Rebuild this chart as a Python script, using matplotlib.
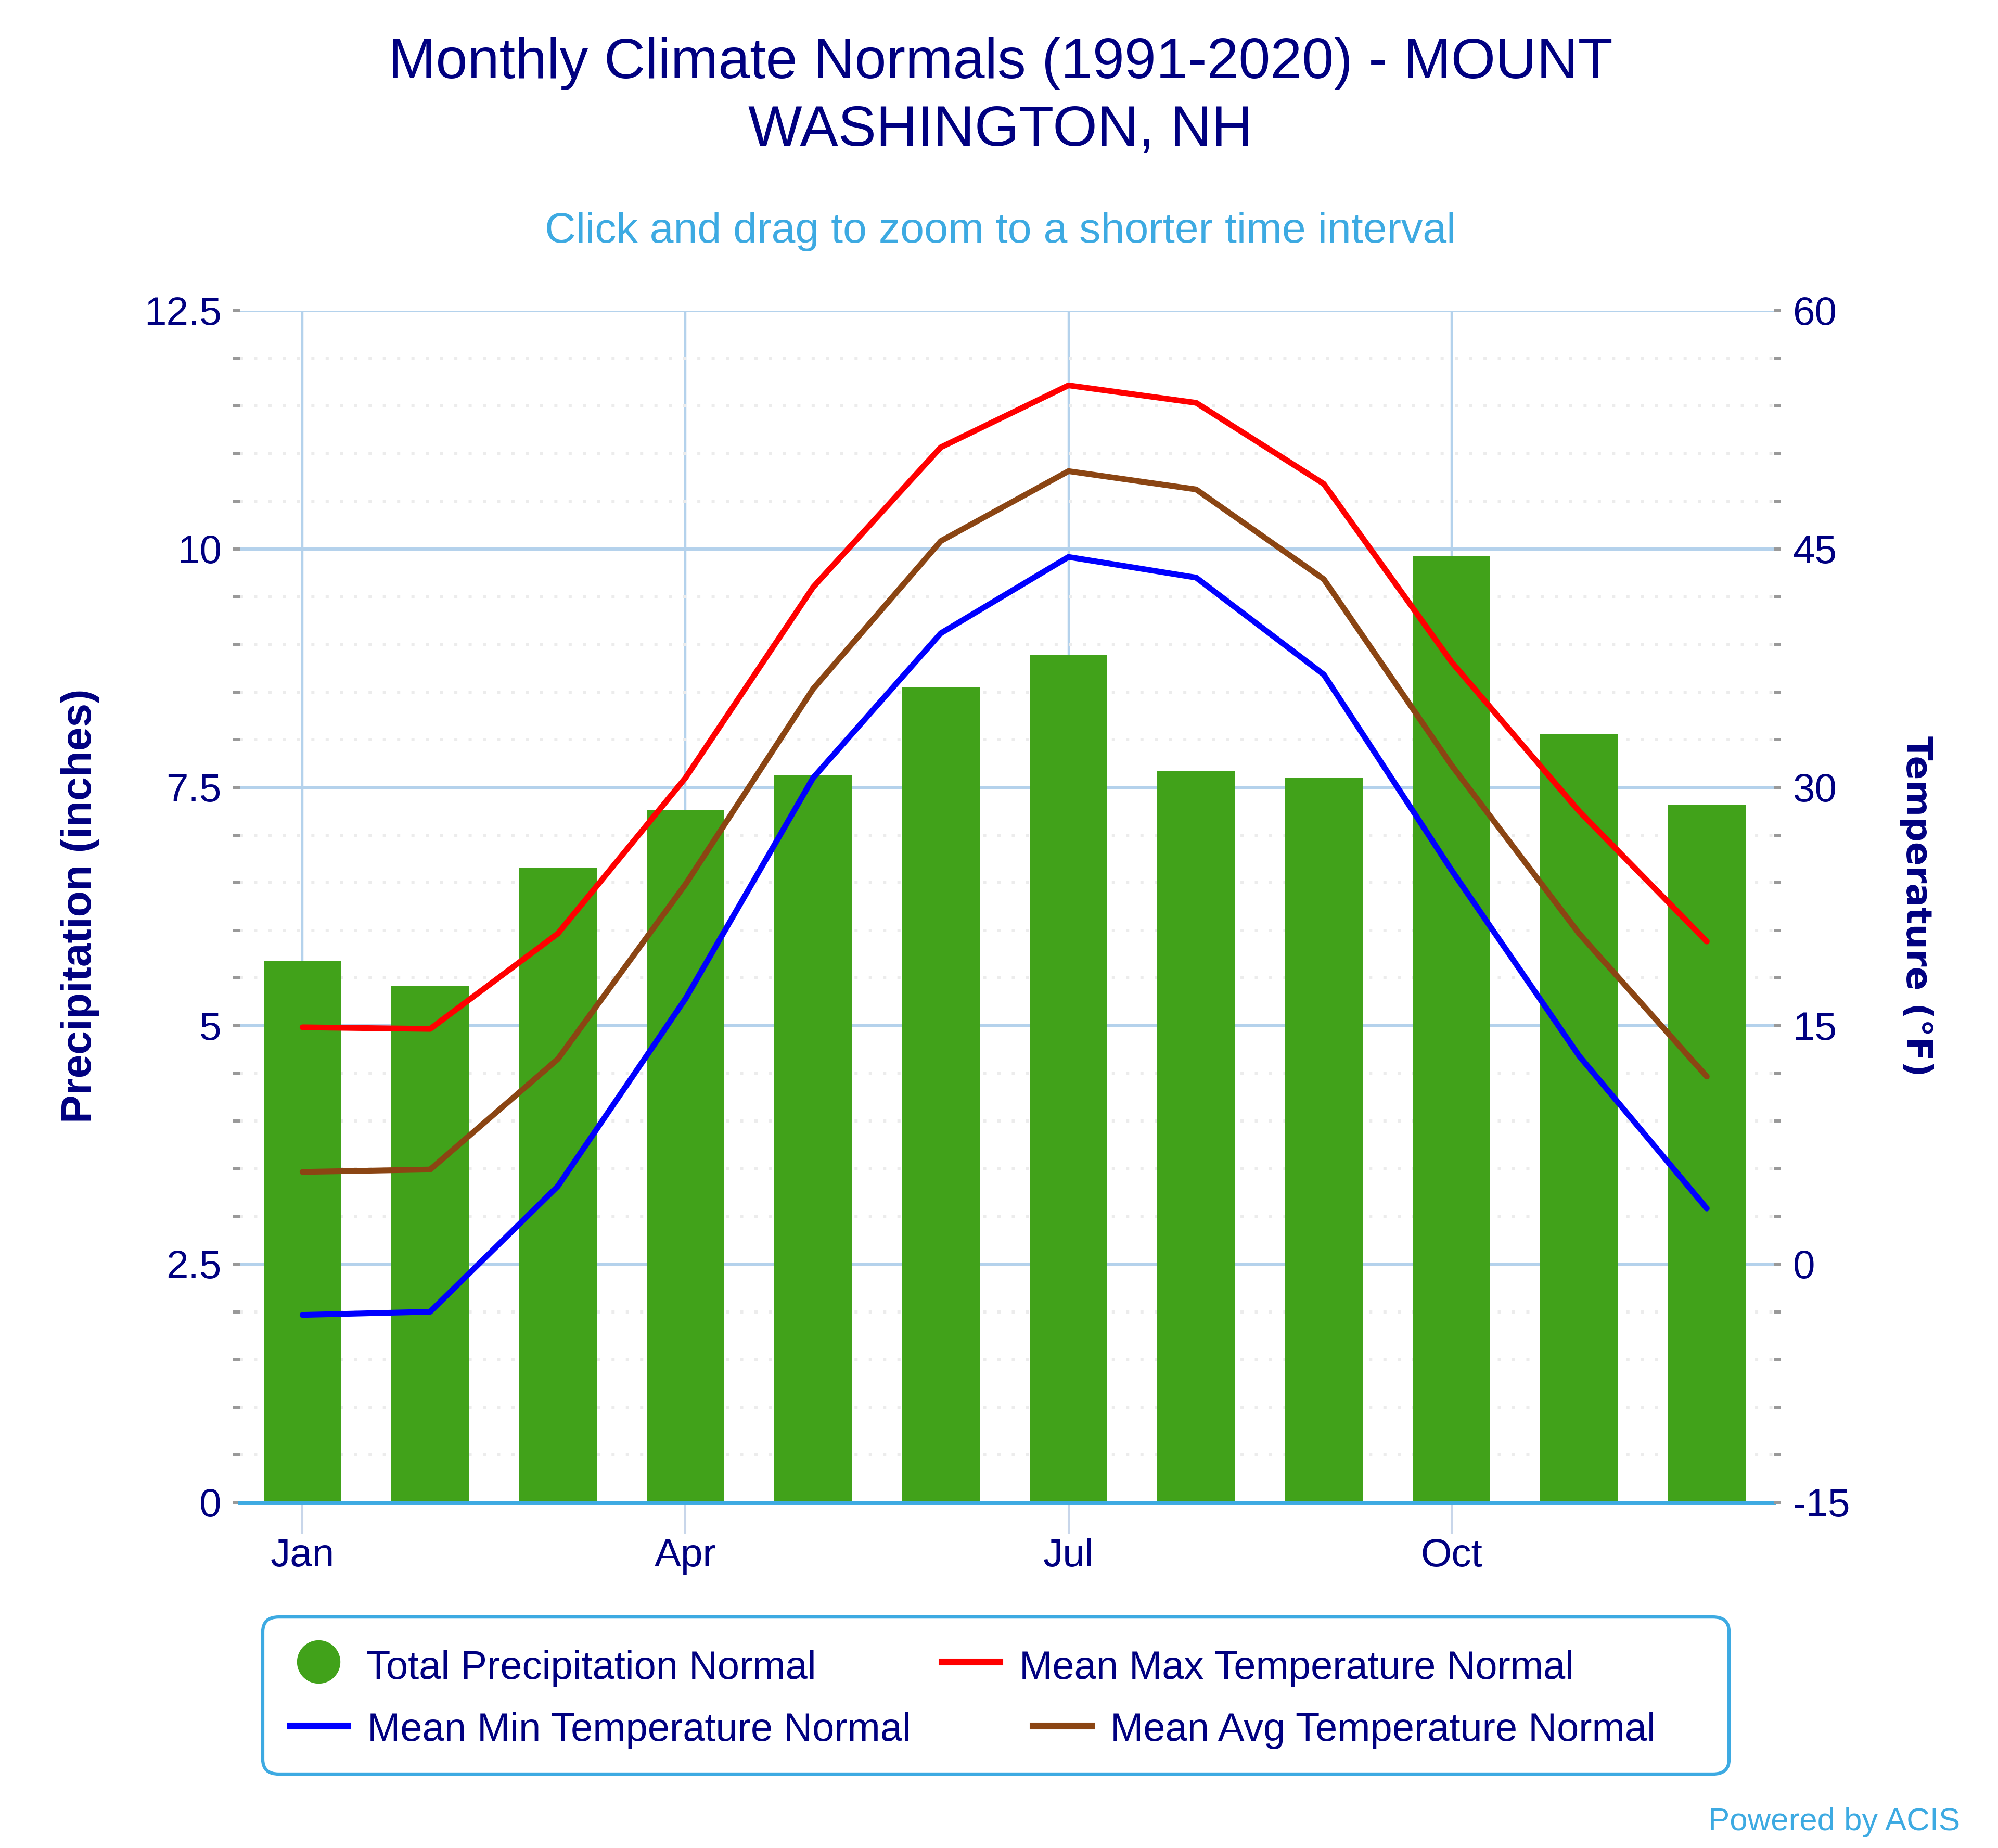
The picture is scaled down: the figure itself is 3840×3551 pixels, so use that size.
"""Monthly climate normals chart for Mount Washington, NH (bars + temperature lines)."""

import matplotlib

matplotlib.use("Agg")

import matplotlib.pyplot as plt
from matplotlib.lines import Line2D
from matplotlib.patches import FancyBboxPatch
from matplotlib.ticker import MultipleLocator

# --- data -------------------------------------------------------------------
months = ["Jan", "Feb", "Mar", "Apr", "May", "Jun", "Jul", "Aug", "Sep", "Oct", "Nov", "Dec"]
precip = [5.68, 5.42, 6.66, 7.26, 7.63, 8.55, 8.89, 7.67, 7.60, 9.93, 8.06, 7.32]
temp_max = [14.9, 14.8, 20.8, 30.6, 42.6, 51.4, 55.3, 54.2, 49.1, 37.9, 28.5, 20.3]
temp_avg = [5.8, 5.95, 12.9, 23.9, 36.2, 45.5, 49.9, 48.75, 43.1, 31.4, 20.8, 11.8]
temp_min = [-3.2, -3.0, 4.9, 16.7, 30.6, 39.7, 44.5, 43.2, 37.1, 24.8, 13.1, 3.5]
labeled_months = [0, 3, 6, 9]

series_names = [
    "Total Precipitation Normal",
    "Mean Max Temperature Normal",
    "Mean Min Temperature Normal",
    "Mean Avg Temperature Normal",
]
title_lines = ["Monthly Climate Normals (1991-2020) - MOUNT", "WASHINGTON, NH"]
subtitle = "Click and drag to zoom to a shorter time interval"
credit = "Powered by ACIS"

# --- styling ----------------------------------------------------------------
NAVY = "#000080"
SKY = "#3DAAE2"
GREEN = "#41A21A"
RED = "#FF0000"
BLUE = "#0000FF"
BROWN = "#8B4513"
GRID = "#B4D2EC"
MINOR_GRID = "#ECECEC"
TICK_GRAY = "#999999"

plt.rcParams["font.family"] = ["Liberation Sans", "DejaVu Sans"]
plt.rcParams["axes.unicode_minus"] = False

fig = plt.figure(figsize=(38.4, 35.51), dpi=100)
ax = fig.add_axes([0.1201, 0.1870, 0.7680, 0.6449])
ax2 = ax.twinx()

x = list(range(len(months)))

# precipitation bars on the left axis
ax.bar(x, precip, width=0.61, color=GREEN, zorder=2)
ax.set_ylim(0, 12.5)
ax.set_xlim(-0.49, 11.53)
ax.yaxis.set_major_locator(MultipleLocator(2.5))
ax.yaxis.set_minor_locator(MultipleLocator(0.5))
ax.set_yticks([0, 2.5, 5, 7.5, 10, 12.5])
ax.set_yticklabels(["0", "2.5", "5", "7.5", "10", "12.5"])
ax.set_axisbelow(True)
ax.grid(axis="y", which="major", color=GRID, linewidth=4.3)
ax.grid(axis="y", which="minor", color=MINOR_GRID, linewidth=4.3, linestyle=(0, (1, 3.6)))
ax.grid(axis="x", which="major", color=GRID, linewidth=3.2)

ax.set_xticks(labeled_months)
ax.set_xticklabels([months[i] for i in labeled_months])
ax.tick_params(axis="x", length=43, width=2.9, color="#C8D6EA", labelsize=55,
               labelcolor=NAVY, pad=6)
ax.tick_params(axis="y", which="both", length=9.4, width=4.3, color=TICK_GRAY,
               labelsize=55, labelcolor=NAVY, pad=16)

# temperature lines on the right axis
line_kw = dict(linewidth=8, solid_capstyle="round", solid_joinstyle="round", zorder=3)
ax2.plot(x, temp_max, color=RED, **line_kw)
ax2.plot(x, temp_avg, color=BROWN, **line_kw)
ax2.plot(x, temp_min, color=BLUE, **line_kw)
ax2.set_ylim(-15, 60)
ax2.yaxis.set_major_locator(MultipleLocator(15))
ax2.yaxis.set_minor_locator(MultipleLocator(3))
ax2.tick_params(axis="y", which="both", length=9.4, width=4.3, color=TICK_GRAY,
                labelsize=55, labelcolor=NAVY, pad=16)

for a in (ax, ax2):
    for side in ("top", "left", "right"):
        a.spines[side].set_visible(False)
    a.spines["bottom"].set_color(SKY)
    a.spines["bottom"].set_linewidth(5)
ax2.spines["bottom"].set_visible(False)

# axis titles
fig.text(0.040, 0.5097, "Precipitation (inches)", rotation=90, ha="center", va="center",
         fontsize=59, fontweight="bold", color=NAVY)
fig.text(0.959, 0.5097, "Temperature (°F)", rotation=270, ha="center", va="center",
         fontsize=49, fontweight="bold", color=NAVY, family="DejaVu Sans")

# titles
fig.text(0.5008, 0.9578, title_lines[0], ha="center", va="baseline", fontsize=79, color=NAVY)
fig.text(0.5008, 0.9211, title_lines[1], ha="center", va="baseline", fontsize=79, color=NAVY)
fig.text(0.5008, 0.8688, subtitle, ha="center", va="baseline", fontsize=59.4, color=SKY)

# legend box and entries
box = FancyBboxPatch((0.1315, 0.0400), 0.7339, 0.0850, transform=fig.transFigure,
                     boxstyle="round,pad=0,rounding_size=0.008", facecolor="white",
                     edgecolor=SKY, linewidth=4.5)
fig.add_artist(box)

fig.add_artist(Line2D([0.1594], [0.1008], transform=fig.transFigure, marker="o",
                      markersize=59, color=GREEN, linestyle="none"))
fig.text(0.1833, 0.0915, series_names[0], fontsize=54.6, color=NAVY, va="baseline")

fig.add_artist(Line2D([0.4714, 0.5003], [0.1008, 0.1008], transform=fig.transFigure,
                      color=RED, linewidth=9.4))
fig.text(0.5102, 0.0915, series_names[1], fontsize=54.6, color=NAVY, va="baseline")

fig.add_artist(Line2D([0.1453, 0.1737], [0.0662, 0.0662], transform=fig.transFigure,
                      color=BLUE, linewidth=9.4))
fig.text(0.1839, 0.0580, series_names[2], fontsize=54.6, color=NAVY, va="baseline")

fig.add_artist(Line2D([0.5170, 0.5460], [0.0662, 0.0662], transform=fig.transFigure,
                      color=BROWN, linewidth=9.4))
fig.text(0.5557, 0.0580, series_names[3], fontsize=54.6, color=NAVY, va="baseline")

fig.text(0.981, 0.0096, credit, ha="right", va="baseline", fontsize=44.5, color=SKY)

fig.savefig("out.png", dpi=100, facecolor="white")
